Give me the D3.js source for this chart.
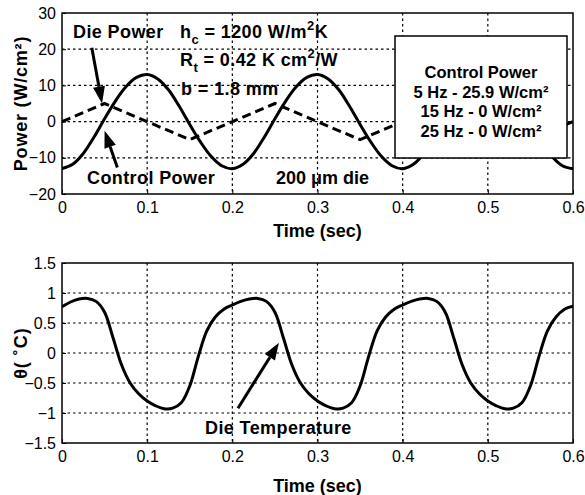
<!DOCTYPE html>
<html>
<head>
<meta charset="utf-8">
<script src="https://cdn.jsdelivr.net/npm/d3@7"></script>
<style>
  html, body { margin: 0; padding: 0; background: #fff; }
  svg { display: block; }
  text { font-family: "Liberation Sans", Arial, Helvetica, sans-serif; fill: #000; }
  .bold { font-weight: bold; }
</style>
</head>
<body>
<svg id="chart" width="585" height="495"></svg>
<script>
// ---- data ----
const timeTicks = [0, 0.1, 0.2, 0.3, 0.4, 0.5, 0.6];
const powerTicks = [-20, -10, 0, 10, 20, 30];
const tempTicks = [-1.5, -1, -0.5, 0, 0.5, 1, 1.5];

// control power (W/cm^2), sampled every 0.0125 s from 0 to 0.6 s
const controlTime = d3.range(49).map(i => +(i * 0.0125).toFixed(4));
const controlPower = [
  -13, -11.8, -8.8, -4.3, 0.8, 5.6, 9.6, 12.2, 13, 11.8, 8.8, 4.3, -0.8, -5.6, -9.6, -12.2,
  -13, -11.8, -8.8, -4.3, 0.8, 5.6, 9.6, 12.2, 13, 11.8, 8.8, 4.3, -0.8, -5.6, -9.6, -12.2,
  -13, -11.8, -8.8, -4.3, 0.8, 5.6, 9.6, 12.2, 13, 11.8, 8.8, 4.3, -0.8, -5.6, -9.6, -12.2,
  -13
];

// die power (W/cm^2), triangle wave corners
const dieTime = [0, 0.05, 0.1, 0.15, 0.2, 0.25, 0.3, 0.35, 0.4, 0.45, 0.5, 0.55, 0.6];
const diePower = [0, 5, 0, -5, 0, 5, 0, -5, 0, 5, 0, -5, 0];

// die temperature (°C), sampled every 0.01 s
const tempTime = d3.range(61).map(i => +(i * 0.01).toFixed(3));
const dieTemp = [
  0.77, 0.85, 0.90, 0.91, 0.86, 0.68, 0.25, -0.20, -0.50, -0.68,
  -0.80, -0.88, -0.93, -0.92, -0.83, -0.55, -0.06, 0.37, 0.60, 0.73,
  0.80, 0.86, 0.90, 0.91, 0.86, 0.68, 0.25, -0.20, -0.50, -0.68,
  -0.80, -0.88, -0.93, -0.92, -0.83, -0.55, -0.06, 0.37, 0.60, 0.73,
  0.80, 0.86, 0.90, 0.91, 0.86, 0.68, 0.25, -0.20, -0.50, -0.68,
  -0.80, -0.88, -0.93, -0.92, -0.83, -0.55, -0.06, 0.37, 0.60, 0.73,
  0.78
];

const legendLines = ["Control Power", "5 Hz - 25.9 W/cm²", "15 Hz - 0 W/cm²", "25 Hz - 0 W/cm²"];

// ---- layout ----
const svg = d3.select("#chart");
const left = 62, right = 573;

const x = d3.scaleLinear().domain([0, 0.6]).range([left, right]);
const yP = d3.scaleLinear().domain([-20, 30]).range([194, 13]);
const yT = d3.scaleLinear().domain([-1.5, 1.5]).range([443, 263]);

const defs = svg.append("defs");

function panel(id, y, yTicks, yFmt) {
  const [y0, y1] = y.range();
  const g = svg.append("g");
  defs.append("clipPath").attr("id", id)
    .append("rect").attr("x", left).attr("y", y1).attr("width", right - left).attr("height", y0 - y1);

  // grid
  g.append("g").selectAll("line").data(timeTicks.slice(1, -1)).join("line")
    .attr("x1", d => x(d)).attr("x2", d => x(d)).attr("y1", y1).attr("y2", y0)
    .attr("stroke", "#000").attr("stroke-width", 1.2).attr("stroke-dasharray", "2.5,3");
  g.append("g").selectAll("line").data(yTicks.slice(1, -1)).join("line")
    .attr("y1", d => y(d)).attr("y2", d => y(d)).attr("x1", left).attr("x2", right)
    .attr("stroke", "#000").attr("stroke-width", 1.2).attr("stroke-dasharray", "2.5,3");

  // axes
  const ax = g.append("g").attr("transform", `translate(0,${y0})`)
    .call(d3.axisBottom(x).tickValues(timeTicks).tickFormat(d3.format("")).tickSizeInner(-4).tickSizeOuter(0).tickPadding(8));
  const ay = g.append("g").attr("transform", `translate(${left},0)`)
    .call(d3.axisLeft(y).tickValues(yTicks).tickFormat(yFmt).tickSizeInner(-4).tickSizeOuter(0).tickPadding(6));
  [ax, ay].forEach(a => {
    a.select(".domain").remove();
    a.selectAll("line").attr("stroke-width", 1);
    a.selectAll("text").attr("font-size", 16).attr("font-family", null);
  });

  return { g, y0, y1 };
}

function frame(g, y0, y1) {
  g.append("rect").attr("x", left).attr("y", y1).attr("width", right - left).attr("height", y0 - y1)
    .attr("fill", "none").attr("stroke", "#000").attr("stroke-width", 1.5);
}

function arrow(g, x1, y1, x2, y2) {
  const ang = Math.atan2(y2 - y1, x2 - x1);
  const len = 17, half = 6;
  const bx = x2 - len * Math.cos(ang), by = y2 - len * Math.sin(ang);
  g.append("line").attr("x1", x1).attr("y1", y1).attr("x2", bx).attr("y2", by)
    .attr("stroke", "#000").attr("stroke-width", 3);
  const px = -Math.sin(ang) * half, py = Math.cos(ang) * half;
  g.append("path")
    .attr("d", `M${x2},${y2}L${bx + px},${by + py}L${bx - px},${by - py}Z`)
    .attr("fill", "#000");
}

// ---- top panel: power ----
const powerPanel = panel("clipTop", yP, powerTicks, d3.format("d"));
const topCurves = powerPanel.g.append("g").attr("clip-path", "url(#clipTop)");

topCurves.append("path")
  .datum(controlTime.map((t, i) => [t, controlPower[i]]))
  .attr("d", d3.line().x(d => x(d[0])).y(d => yP(d[1])).curve(d3.curveCatmullRom))
  .attr("fill", "none").attr("stroke", "#000").attr("stroke-width", 3);

topCurves.append("path")
  .datum(dieTime.map((t, i) => [t, diePower[i]]))
  .attr("d", d3.line().x(d => x(d[0])).y(d => yP(d[1])))
  .attr("fill", "none").attr("stroke", "#000").attr("stroke-width", 3)
  .attr("stroke-dasharray", "9,5");

// legend box
const lg = powerPanel.g.append("g");
lg.append("rect").attr("x", 395).attr("y", 36).attr("width", 172).attr("height", 122)
  .attr("fill", "#fff").attr("stroke", "#000").attr("stroke-width", 1.5);
lg.selectAll("text").data(legendLines).join("text")
  .attr("class", "bold").attr("x", 481).attr("y", (d, i) => 78 + i * 19.5)
  .attr("text-anchor", "middle").attr("font-size", 16.5)
  .text(d => d);

frame(powerPanel.g, powerPanel.y0, powerPanel.y1);

// annotations
const ann = powerPanel.g.append("g").attr("class", "bold").attr("font-size", 18)
  .attr("letter-spacing", 0.4);
ann.append("text").attr("x", 73).attr("y", 38).text("Die Power");
const hc = ann.append("text").attr("x", 180).attr("y", 38);
hc.append("tspan").text("h");
hc.append("tspan").attr("dy", 6).attr("font-size", 13).text("c");
hc.append("tspan").attr("dy", -6).text(" = 1200 W/m");
hc.append("tspan").attr("dy", -8).attr("font-size", 13).text("2");
hc.append("tspan").attr("dy", 8).text("K");
const rt = ann.append("text").attr("x", 180).attr("y", 66);
rt.append("tspan").text("R");
rt.append("tspan").attr("dy", 6).attr("font-size", 13).text("t");
rt.append("tspan").attr("dy", -6).text(" = 0.42 K cm");
rt.append("tspan").attr("dy", -8).attr("font-size", 13).text("2");
rt.append("tspan").attr("dy", 8).text("/W");
ann.append("text").attr("x", 181).attr("y", 95).text("b = 1.8 mm");
ann.append("text").attr("x", 87).attr("y", 184).text("Control Power");
ann.append("text").attr("x", 276).attr("y", 184).attr("letter-spacing", 0).text("200 μm die");

arrow(powerPanel.g, x(0.035), yP(20.4), x(0.047), yP(5));
arrow(powerPanel.g, x(0.065), yP(-12.7), x(0.05), yP(-2.5));

svg.append("text").attr("class", "bold").attr("font-size", 18)
  .attr("x", (left + right) / 2).attr("y", 237).attr("text-anchor", "middle").text("Time (sec)");
svg.append("text").attr("class", "bold").attr("font-size", 18)
  .attr("transform", `translate(27,${(yP.range()[0] + yP.range()[1]) / 2}) rotate(-90)`)
  .attr("text-anchor", "middle").attr("letter-spacing", 0.8).text("Power (W/cm²)");

// ---- bottom panel: temperature ----
const tempPanel = panel("clipBot", yT, tempTicks, d3.format(""));
tempPanel.g.append("g").attr("clip-path", "url(#clipBot)").append("path")
  .datum(tempTime.map((t, i) => [t, dieTemp[i]]))
  .attr("d", d3.line().x(d => x(d[0])).y(d => yT(d[1])).curve(d3.curveCatmullRom))
  .attr("fill", "none").attr("stroke", "#000").attr("stroke-width", 3);
frame(tempPanel.g, tempPanel.y0, tempPanel.y1);

tempPanel.g.append("text").attr("class", "bold").attr("font-size", 18).attr("letter-spacing", 0.4)
  .attr("x", 205).attr("y", 434).text("Die Temperature");
arrow(tempPanel.g, x(0.2066), yT(-0.92), x(0.2547), yT(0.17));

svg.append("text").attr("class", "bold").attr("font-size", 18)
  .attr("x", (left + right) / 2).attr("y", 492).attr("text-anchor", "middle").text("Time (sec)");
svg.append("text").attr("class", "bold").attr("font-size", 18)
  .attr("transform", `translate(27,${(yT.range()[0] + yT.range()[1]) / 2}) rotate(-90)`)
  .attr("text-anchor", "middle").attr("letter-spacing", 1).text("θ( ˚C)");
</script>
</body>
</html>
